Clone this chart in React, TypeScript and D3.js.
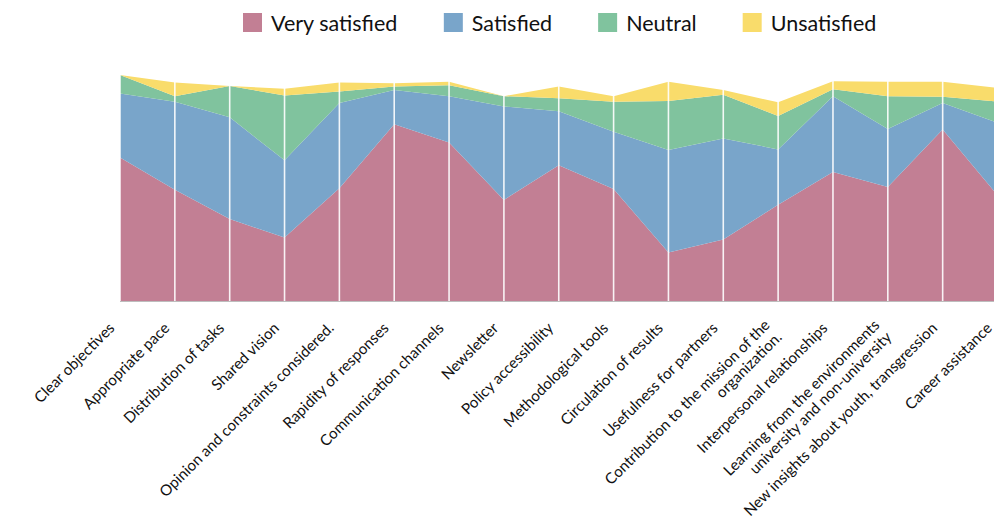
import React from "react";
import { scalePoint, scaleLinear, stack, area, max, sum } from "d3";

// survey topics, bottom axis
const categories = [
  "Clear objectives",
  "Appropriate pace",
  "Distribution of tasks",
  "Shared vision",
  "Opinion and constraints considered.",
  "Rapidity of responses",
  "Communication channels",
  "Newsletter",
  "Policy accessibility",
  "Methodological tools",
  "Circulation of results",
  "Usefulness for partners",
  "Contribution to the mission of the\norganization.",
  "Interpersonal relationships",
  "Learning from the environments\nuniversity and non-university",
  "New insights about youth, transgression",
  "Career assistance",
];

const verySatisfied = [21.0, 16.3, 12.0, 9.3, 16.5, 25.9, 23.2, 14.8, 19.9, 16.4, 7.1, 9.0, 14.1, 18.9, 16.7, 25.1, 15.5];
const satisfied = [9.4, 12.9, 14.9, 11.3, 12.5, 5.0, 6.8, 13.7, 7.9, 8.4, 15.0, 14.8, 8.1, 11.1, 8.5, 3.9, 10.6];
const neutral = [2.7, 0.8, 4.6, 9.5, 1.7, 0.5, 1.6, 1.5, 1.9, 4.4, 7.2, 6.4, 4.9, 1.0, 4.8, 0.9, 3.1];
const unsatisfied = [0, 2.0, 0, 1.0, 1.3, 0.5, 0.5, 0, 1.7, 0.8, 2.8, 0.7, 2.0, 1.2, 2.1, 2.2, 2.0];

const seriesNames = ["Very satisfied", "Satisfied", "Neutral", "Unsatisfied"];
const seriesColors = ["#c27f94", "#79a5ca", "#80c39e", "#f9dc6b"];

const FONT = "Lato, 'Open Sans', sans-serif";

const measure = (text: string, font: string) => {
  const c = document.createElement("canvas").getContext("2d");
  if (!c) return text.length * 9;
  c.font = font;
  return c.measureText(text).width;
};

export default function App() {
  const width = 994;
  const height = 521;
  const margin = { top: 75, right: -3.5, bottom: 220, left: 120 };
  const baseline = height - margin.bottom;

  const rows = categories.map((c, i) => ({
    category: c,
    "Very satisfied": verySatisfied[i],
    Satisfied: satisfied[i],
    Neutral: neutral[i],
    Unsatisfied: unsatisfied[i],
  }));

  const x = scalePoint()
    .domain(categories)
    .range([margin.left, width - margin.right]);

  const y = scaleLinear()
    .domain([0, max(rows, (r) => sum(seriesNames, (k) => r[k]))])
    .range([baseline, margin.top]);

  const layers = stack().keys(seriesNames)(rows);

  const areaGen = area()
    .x((d) => x(d.data.category))
    .y0((d) => y(d[0]))
    .y1((d) => y(d[1]));

  // legend layout
  const legendFont = `21.5px ${FONT}`;
  let lx = 243;
  const legendItems = seriesNames.map((name, i) => {
    const item = { name, color: seriesColors[i], x: lx };
    lx += 19 + 9 + measure(name, legendFont) + 46;
    return item;
  });

  return (
    <div>
      <style>{"body{margin:0;overflow:hidden}"}</style>
      <svg width={width} height={height} style={{ display: "block" }} fontFamily={FONT}>
        {legendItems.map((d) => (
          <g key={d.name} transform={`translate(${d.x}, 13)`}>
            <rect width={19} height={19} fill={d.color} />
            <text x={28} y={18} fontSize={21.5} fill="#111">
              {d.name}
            </text>
          </g>
        ))}

        {layers.map((layer, i) => (
          <path key={layer.key} d={areaGen(layer)} fill={seriesColors[i]} />
        ))}

        {categories.map((c) => (
          <line
            key={c}
            x1={x(c)}
            x2={x(c)}
            y1={margin.top - 5}
            y2={baseline}
            stroke="#fff"
            strokeWidth={1.6}
            strokeOpacity={0.9}
          />
        ))}

        <line x1={margin.left} x2={width} y1={baseline + 0.5} y2={baseline + 0.5} stroke="#bdbdbd" strokeWidth={1} />

        {categories.map((c) => {
          const lines = c.split("\n");
          return (
            <g key={c} transform={`translate(${x(c) - 4.5}, ${baseline + 28}) rotate(-45)`}>
              {lines.map((ln, j) => (
                <text
                  key={j}
                  x={0}
                  y={j * 17 - (lines.length - 1) * 4}
                  textAnchor="end"
                  fontSize={15.2}
                  fill="#111"
                >
                  {ln}
                </text>
              ))}
            </g>
          );
        })}
      </svg>
    </div>
  );
}
